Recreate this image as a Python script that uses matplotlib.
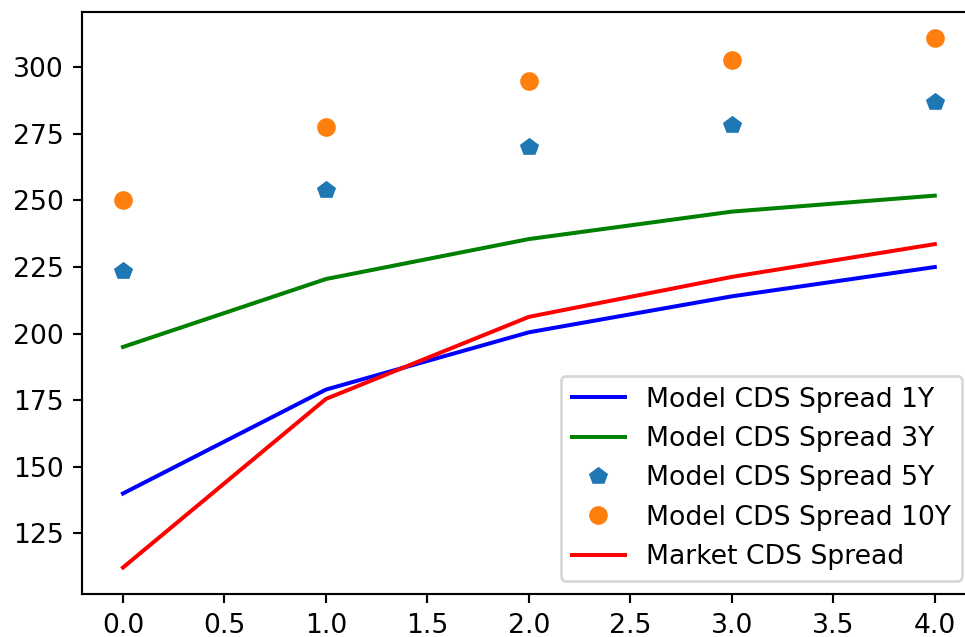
import matplotlib
matplotlib.use("Agg")
import matplotlib.pyplot as plt
import numpy as np

x = [0, 1, 2, 3, 4]
model_1y = [140.0, 179.0, 200.5, 214.0, 225.0]
model_3y = [195.0, 220.5, 235.5, 245.8, 251.8]
model_5y = [223.6, 254.0, 269.9, 278.2, 286.8]
model_10y = [250.3, 277.5, 294.7, 302.6, 310.8]
market = [112.2, 175.5, 206.3, 221.3, 233.6]

fig = plt.figure(figsize=(965/192, 637/192), dpi=192)
ax = fig.add_axes([82.4/965, 43/637, 893/965, 582/637])

ax.plot(x, model_1y, 'b', label='Model CDS Spread 1Y')
ax.plot(x, model_3y, 'g', label='Model CDS Spread 3Y')
ax.plot(x, model_5y, 'p', color='C0', label='Model CDS Spread 5Y')
ax.plot(x, model_10y, 'o', color='C1', label='Model CDS Spread 10Y')
ax.plot(x, market, 'r', label='Market CDS Spread')
ax.legend(loc='lower right')

fig.savefig('out.png', dpi=192)
